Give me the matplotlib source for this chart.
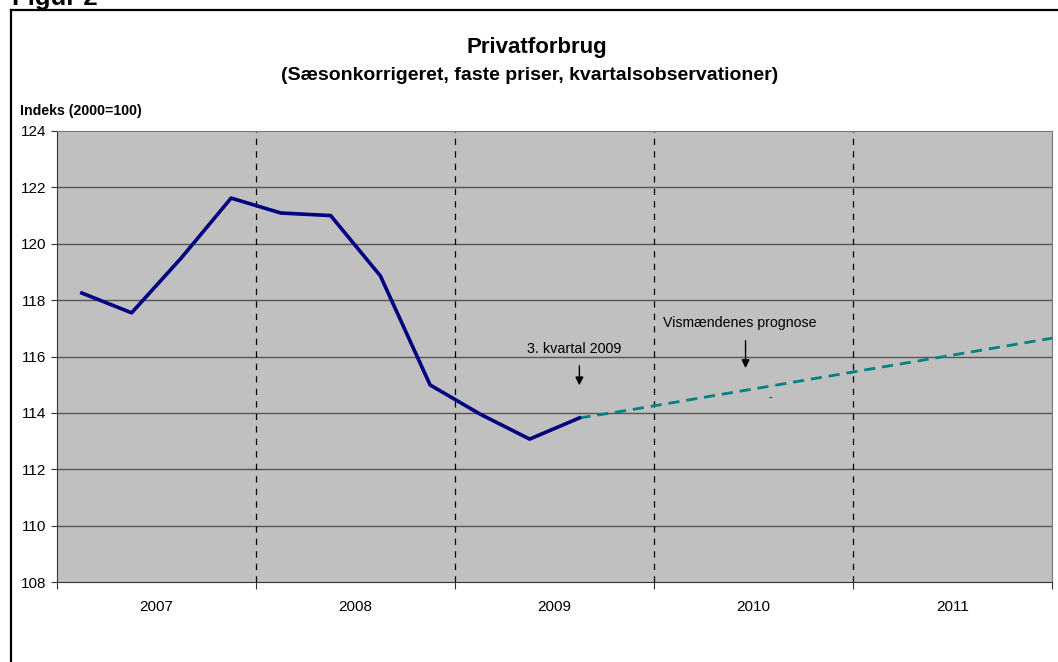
import matplotlib.pyplot as plt
import numpy as np
from matplotlib.lines import Line2D

plt.rcParams['font.family'] = ['Liberation Sans', 'DejaVu Sans']

# Privatforbrug, kvartalsvis indeks (2000=100)
aar = ['2007', '2008', '2009', '2010', '2011']
faktisk = [118.25, 117.55, 119.5, 121.62, 121.09, 121.0, 118.86, 114.99,
           113.96, 113.07, 113.82]
prognose = [113.82, 114.1, 114.4, 114.7, 115.0, 115.3, 115.6, 115.9,
            116.2, 116.5, 116.8]
yticks = np.arange(108, 125, 2)

x_faktisk = np.arange(len(faktisk))
x_prognose = np.arange(len(faktisk) - 1, len(faktisk) - 1 + len(prognose))

fig = plt.figure(figsize=(10.58, 6.62), dpi=100)
ax = fig.add_axes([57 / 1058, 80 / 662, 995 / 1058, 451 / 662])
ax.set_facecolor('#c0c0c0')

n_kv = 4 * len(aar)
ax.set_xlim(-0.5, n_kv - 0.5)
ax.set_ylim(108, 124)

for y in yticks[1:-1]:
    ax.axhline(y, color='#555555', lw=1, zorder=1)
for k in range(1, len(aar)):
    ax.axvline(4 * k - 0.5, color='black', lw=0.9, ls=(0, (5, 5)), zorder=1)

ax.plot(x_prognose, prognose, color='#008080', lw=2, ls=(0, (4, 2.5)), zorder=3)
ax.plot(x_faktisk, faktisk, color='#000080', lw=2.6, zorder=4)

ax.set_yticks(yticks)
ax.set_yticklabels([str(v) for v in yticks], fontsize=11)
ax.set_xticks(np.arange(-0.5, n_kv, 4))
ax.set_xticklabels([])
ax.set_xticks(np.arange(1.5, n_kv, 4), minor=True)
ax.set_xticklabels(aar, minor=True, fontsize=11)
ax.tick_params(axis='x', which='major', direction='out', length=5, color='#333333')
ax.tick_params(axis='x', which='minor', length=0, pad=13)
ax.tick_params(axis='y', direction='out', length=4, pad=4, color='#333333')

for s in ['left', 'bottom']:
    ax.spines[s].set_color('#333333')
for s in ['top', 'right']:
    ax.spines[s].set_color('#777777')

ax.annotate('', xy=(10.0, 114.88), xytext=(10.0, 115.77),
            arrowprops=dict(arrowstyle='-|>', color='black', lw=1, mutation_scale=12))
ax.text(9.9, 116.27, '3. kvartal 2009', fontsize=10.4, ha='center', va='center')
ax.annotate('', xy=(13.34, 115.49), xytext=(13.34, 116.66),
            arrowprops=dict(arrowstyle='-|>', color='black', lw=1, mutation_scale=12))
ax.text(13.23, 117.19, 'Vismændenes prognose', fontsize=10.2, ha='center', va='center')
ax.text(13.83, 114.56, '-', fontsize=8, ha='center', va='center')

fig.text(537 / 1058, 1 - 48 / 662, 'Privatforbrug', fontsize=16, fontweight='bold',
         ha='center', va='center')
fig.text(530 / 1058, 1 - 76 / 662, '(Sæsonkorrigeret, faste priser, kvartalsobservationer)',
         fontsize=14, fontweight='bold', ha='center', va='center')
fig.text(20 / 1058, 1 - 111 / 662, 'Indeks (2000=100)', fontsize=10.2, fontweight='bold',
         ha='left', va='center')
fig.text(12 / 1058, 1 - 5 / 662, 'Figur 2', fontsize=18.5, fontweight='bold',
         ha='left', va='baseline')

# ramme om figuren
fig.add_artist(Line2D([11 / 1058, 11 / 1058], [0, 1 - 10 / 662], color='black', lw=1.6))
fig.add_artist(Line2D([11 / 1058, 1], [1 - 10 / 662, 1 - 10 / 662], color='black', lw=1.6))

fig.savefig('out.png', dpi=100)
